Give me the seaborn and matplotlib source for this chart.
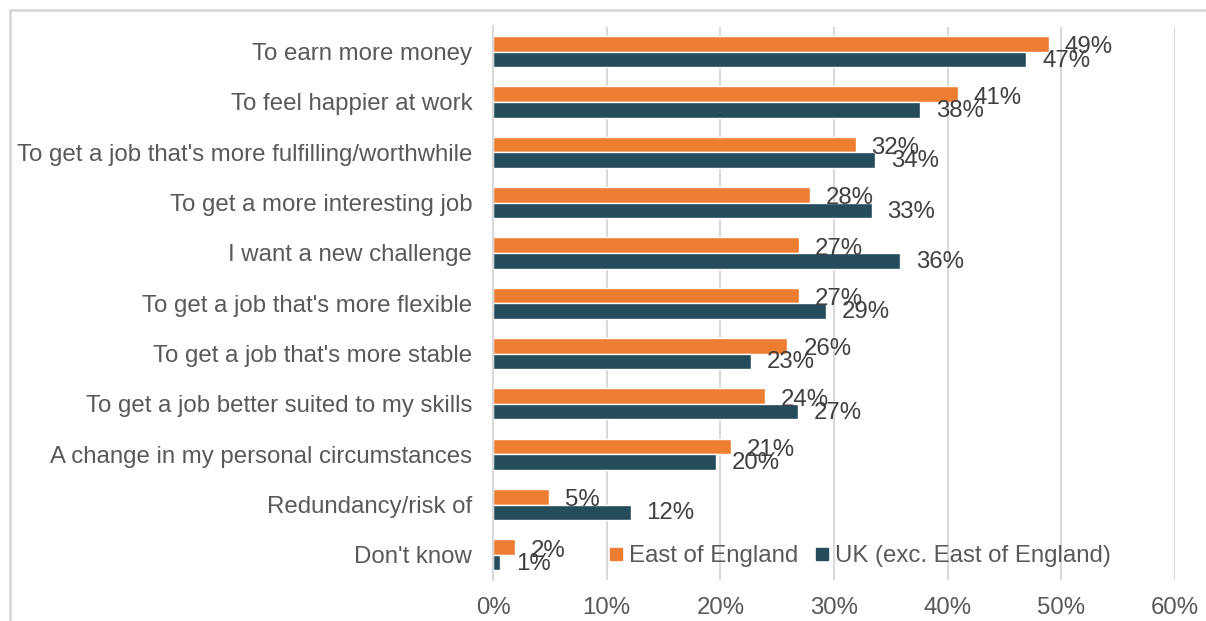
import matplotlib
matplotlib.use("Agg")
import matplotlib.pyplot as plt
from matplotlib.lines import Line2D
from matplotlib.patches import Rectangle
import seaborn as sns
import pandas as pd

# Reasons for wanting to change job (% of respondents)
categories = [
    "To earn more money",
    "To feel happier at work",
    "To get a job that's more fulfilling/worthwhile",
    "To get a more interesting job",
    "I want a new challenge",
    "To get a job that's more flexible",
    "To get a job that's more stable",
    "To get a job better suited to my skills",
    "A change in my personal circumstances",
    "Redundancy/risk of",
    "Don't know",
]
east_of_england = [48.9, 40.9, 31.9, 27.9, 26.9, 26.9, 25.9, 23.9, 20.9, 4.9, 1.9]
uk_exc_east = [46.9, 37.6, 33.6, 33.3, 35.8, 29.3, 22.7, 26.8, 19.6, 12.1, 0.6]
series_names = ["East of England", "UK (exc. East of England)"]
x_ticks = [0, 10, 20, 30, 40, 50, 60]
x_tick_labels = ["0%", "10%", "20%", "30%", "40%", "50%", "60%"]

ORANGE = "#ED7D31"
TEAL = "#264B5A"
TEXT = "#595959"
VALUE_TEXT = "#404040"
GRID = "#D9D9D9"
FS = 17.3

df = pd.DataFrame({
    "reason": categories * 2,
    "share": east_of_england + uk_exc_east,
    "group": [series_names[0]] * len(categories) + [series_names[1]] * len(categories),
})

sns.set_theme(style="white")
plt.rcParams["font.family"] = ["Liberation Sans", "DejaVu Sans"]

W, H = 1206, 621
fig = plt.figure(figsize=(W / 100, H / 100), dpi=100)
ax = fig.add_axes([493 / W, 41 / H, 682 / W, 553.5 / H])

sns.barplot(
    data=df, x="share", y="reason", hue="group", order=categories,
    hue_order=series_names, palette=[ORANGE, TEAL], orient="h",
    width=0.62, saturation=1, ax=ax, legend=False, zorder=3,
)

ax.set_xlim(0, 60)
ax.set_ylim(len(categories) - 0.5, -0.5)
ax.set_xticks(x_ticks)
ax.set_xticklabels(x_tick_labels)
ax.set_xlabel("")
ax.set_ylabel("")
ax.tick_params(axis="x", length=0, pad=12.5, labelsize=FS, labelcolor=TEXT)
ax.tick_params(axis="y", length=0, pad=15, labelsize=FS, labelcolor=TEXT)

ax.grid(axis="x", color=GRID, linewidth=1.5, zorder=0)
ax.set_axisbelow(True)
for side in ["top", "right", "bottom"]:
    ax.spines[side].set_visible(False)
ax.spines["left"].set_color(GRID)
ax.spines["left"].set_linewidth(1.5)
ax.spines["left"].set_zorder(4)

# Value labels beside each bar
for container, dy in zip(ax.containers, [-2.5, -0.8]):
    for bar in container:
        val = bar.get_width()
        ax.annotate(
            f"{val:.0f}%",
            xy=(val, bar.get_y() + bar.get_height() / 2),
            xytext=(11.5, dy), textcoords="offset points",
            ha="left", va="center", fontsize=FS, color=VALUE_TEXT, zorder=5,
        )

handles = [
    Line2D([], [], marker="s", linestyle="none", markersize=8.8,
           markerfacecolor=c, markeredgecolor=c)
    for c in [ORANGE, TEAL]
]
ax.legend(
    handles, series_names, loc="center", bbox_to_anchor=(0.538, 0.043),
    ncol=2, frameon=False, fontsize=FS, labelcolor=TEXT,
    handlelength=0.6, handletextpad=0.25, columnspacing=0.7, borderpad=0,
)

# Light outer frame around the chart area
fig.patches.append(Rectangle(
    (10 / W, -0.2), 1.5, 1.2 - 10 / H, transform=fig.transFigure,
    fill=False, edgecolor=GRID, linewidth=2, zorder=0,
))

fig.savefig("out.png", dpi=100)
